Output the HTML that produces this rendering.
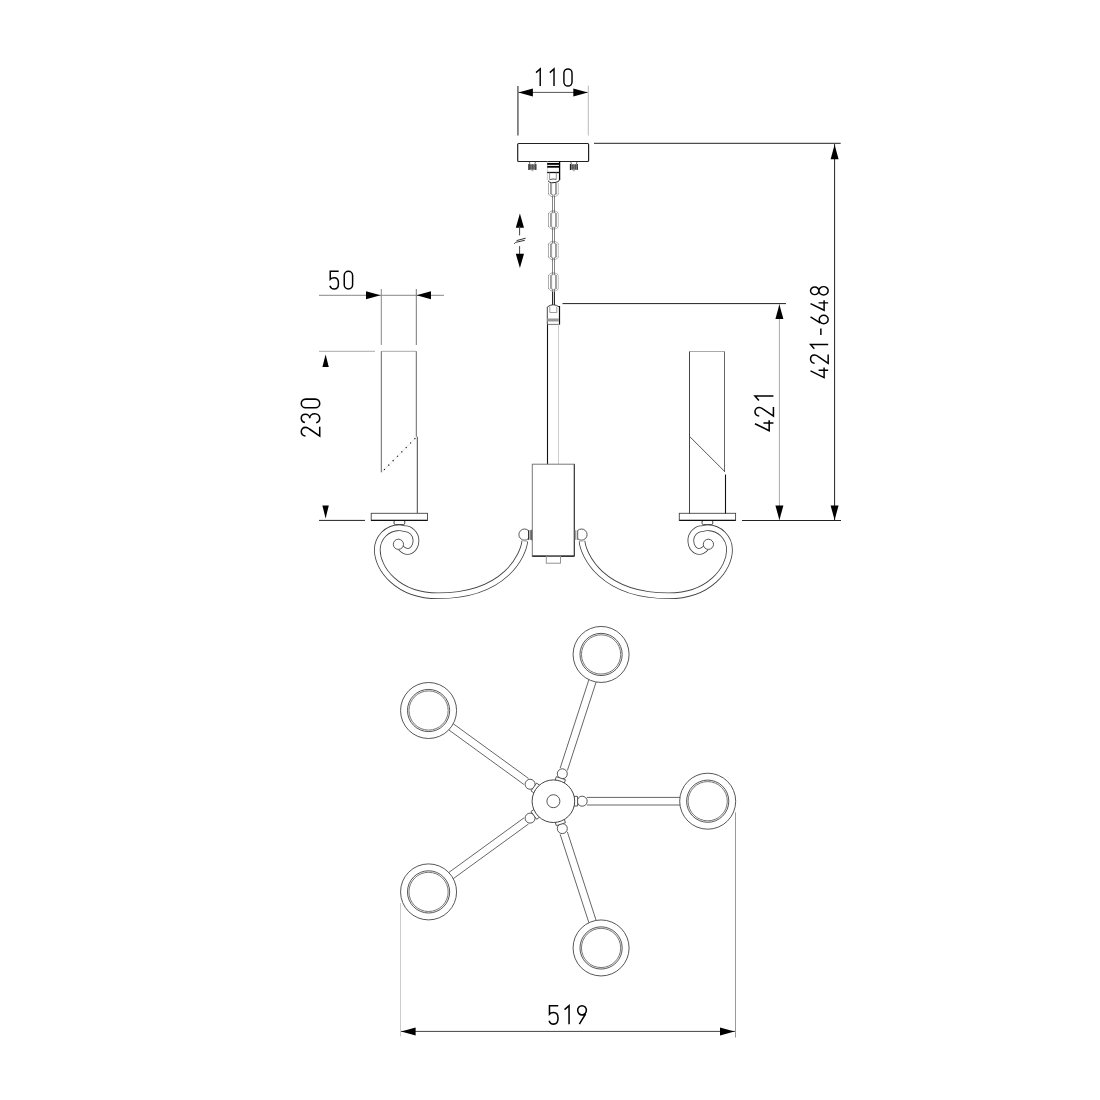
<!DOCTYPE html>
<html><head><meta charset="utf-8"><title>Chandelier drawing</title>
<style>
html,body{margin:0;padding:0;background:#fff;}
body{width:1100px;height:1100px;overflow:hidden;font-family:"Liberation Sans",sans-serif;}
svg{display:block;}
.t{fill:none;stroke:#000;stroke-width:1.5;stroke-linecap:butt;stroke-linejoin:miter;}
</style></head>
<body>
<svg width="1100" height="1100" viewBox="0 0 1100 1100">
<rect width="1100" height="1100" fill="#fff"/>
<path transform="translate(534.30,68.20) scale(0.9538)" d="M1.8,4.6 L6.2,0.75 L6.2,18.75" class="t"/>
<path transform="translate(548.10,68.20) scale(0.9538)" d="M1.8,4.6 L6.2,0.75 L6.2,18.75" class="t"/>
<path transform="translate(563.20,68.20) scale(0.9538)" d="M0.75,5.0 A4.25,4.25 0 0 1 9.25,5.0 L9.25,14.5 A4.25,4.25 0 0 1 0.75,14.5 Z" class="t"/>
<path transform="translate(329.30,270.50) scale(0.9846)" d="M9.5,0.75 L0.95,0.75 L0.95,9.0 C1.9,8.0 3.3,7.4 4.9,7.4 C7.6,7.4 9.25,9.5 9.25,12.6 L9.25,13.6 C9.25,16.6 7.5,18.75 4.9,18.75 C2.8,18.75 1.3,17.6 0.6,15.4" class="t"/>
<path transform="translate(343.50,270.50) scale(0.9846)" d="M0.75,5.0 A4.25,4.25 0 0 1 9.25,5.0 L9.25,14.5 A4.25,4.25 0 0 1 0.75,14.5 Z" class="t"/>
<path transform="translate(548.50,1004.90) scale(1.0256)" d="M9.5,0.75 L0.95,0.75 L0.95,9.0 C1.9,8.0 3.3,7.4 4.9,7.4 C7.6,7.4 9.25,9.5 9.25,12.6 L9.25,13.6 C9.25,16.6 7.5,18.75 4.9,18.75 C2.8,18.75 1.3,17.6 0.6,15.4" class="t"/>
<path transform="translate(562.70,1004.90) scale(1.0256)" d="M1.8,4.6 L6.2,0.75 L6.2,18.75" class="t"/>
<path transform="translate(576.90,1004.90) scale(1.0256)" d="M2.4,18.75 L8.4,8.9 M0.75,5.3 A4.25,4.55 0 1 0 9.25,5.3 A4.25,4.55 0 1 0 0.75,5.3" class="t"/>
<path transform="translate(300.50,436.80) rotate(-90) scale(1.0256)" d="M0.85,4.9 C0.85,2.4 2.7,0.75 5.0,0.75 C7.4,0.75 9.2,2.5 9.2,4.9 C9.2,6.3 8.6,7.4 7.6,8.7 L0.75,18.75 L9.7,18.75" class="t"/>
<path transform="translate(300.50,423.40) rotate(-90) scale(1.0256)" d="M0.8,4.3 C1.3,2.1 3.0,0.75 5.0,0.75 C7.3,0.75 8.9,2.4 8.9,4.8 C8.9,7.2 7.1,9.0 5.0,9.0 C7.6,9.0 9.4,11.1 9.4,13.9 C9.4,16.7 7.4,18.75 4.9,18.75 C2.8,18.75 1.1,17.5 0.6,15.3" class="t"/>
<path transform="translate(300.50,408.60) rotate(-90) scale(1.0256)" d="M0.75,5.0 A4.25,4.25 0 0 1 9.25,5.0 L9.25,14.5 A4.25,4.25 0 0 1 0.75,14.5 Z" class="t"/>
<path transform="translate(754.20,431.50) rotate(-90) scale(1.0256)" d="M7.6,0.75 L0.75,14.6 L11,14.6 M8.3,9.0 L8.3,18.75" class="t"/>
<path transform="translate(754.20,416.90) rotate(-90) scale(1.0256)" d="M0.85,4.9 C0.85,2.4 2.7,0.75 5.0,0.75 C7.4,0.75 9.2,2.5 9.2,4.9 C9.2,6.3 8.6,7.4 7.6,8.7 L0.75,18.75 L9.7,18.75" class="t"/>
<path transform="translate(754.20,402.40) rotate(-90) scale(1.0256)" d="M1.8,4.6 L6.2,0.75 L6.2,18.75" class="t"/>
<path transform="translate(809.80,378.30) rotate(-90) scale(0.9795)" d="M7.6,0.75 L0.75,14.6 L11,14.6 M8.3,9.0 L8.3,18.75" class="t"/>
<path transform="translate(809.80,364.00) rotate(-90) scale(0.9795)" d="M0.85,4.9 C0.85,2.4 2.7,0.75 5.0,0.75 C7.4,0.75 9.2,2.5 9.2,4.9 C9.2,6.3 8.6,7.4 7.6,8.7 L0.75,18.75 L9.7,18.75" class="t"/>
<path transform="translate(809.80,350.50) rotate(-90) scale(0.9795)" d="M1.8,4.6 L6.2,0.75 L6.2,18.75" class="t"/>
<path transform="translate(809.80,335.90) rotate(-90) scale(0.9795)" d="M1.0,11.3 L7.5,11.3" class="t"/>
<path transform="translate(809.80,324.40) rotate(-90) scale(0.9795)" d="M7.6,0.75 L1.6,10.6 M0.75,14.2 A4.25,4.55 0 1 0 9.25,14.2 A4.25,4.55 0 1 0 0.75,14.2" class="t"/>
<path transform="translate(809.80,311.00) rotate(-90) scale(0.9795)" d="M7.6,0.75 L0.75,14.6 L11,14.6 M8.3,9.0 L8.3,18.75" class="t"/>
<path transform="translate(809.80,295.70) rotate(-90) scale(0.9795)" d="M1.1,5.0 A3.9,4.25 0 1 0 8.9,5.0 A3.9,4.25 0 1 0 1.1,5.0 M0.75,14.05 A4.25,4.7 0 1 0 9.25,14.05 A4.25,4.7 0 1 0 0.75,14.05" class="t"/>
<line x1="517.90" y1="86.10" x2="517.90" y2="135.50" stroke="#777" stroke-width="1.7" />
<line x1="588.30" y1="85.60" x2="588.30" y2="135.50" stroke="#bbb" stroke-width="1.0" />
<line x1="518.50" y1="92.40" x2="587.50" y2="92.40" stroke="#555" stroke-width="1.0" />
<path d="M518.40,92.40 L532.90,88.40 L532.90,96.40 Z" fill="#000"/>
<path d="M587.80,92.40 L573.30,96.40 L573.30,88.40 Z" fill="#000"/>
<line x1="594.00" y1="143.30" x2="840.70" y2="143.30" stroke="#222" stroke-width="1.0" />
<line x1="834.60" y1="144.00" x2="834.60" y2="520.00" stroke="#222" stroke-width="1.0" />
<path d="M834.60,144.70 L838.60,159.20 L830.60,159.20 Z" fill="#000"/>
<path d="M834.60,520.00 L830.60,505.50 L838.60,505.50 Z" fill="#000"/>
<line x1="562.50" y1="303.60" x2="786.00" y2="303.60" stroke="#222" stroke-width="1.0" />
<line x1="779.40" y1="304.00" x2="779.40" y2="520.00" stroke="#aaa" stroke-width="1.0" />
<path d="M779.40,304.50 L783.40,319.00 L775.40,319.00 Z" fill="#000"/>
<path d="M779.40,520.00 L775.40,505.50 L783.40,505.50 Z" fill="#000"/>
<line x1="742.00" y1="520.50" x2="841.00" y2="520.50" stroke="#222" stroke-width="1.0" />
<line x1="319.00" y1="295.30" x2="444.00" y2="295.30" stroke="#888" stroke-width="1.0" />
<path d="M380.50,295.30 L366.00,299.30 L366.00,291.30 Z" fill="#000"/>
<path d="M416.50,295.30 L431.00,291.30 L431.00,299.30 Z" fill="#000"/>
<line x1="381.30" y1="289.00" x2="381.30" y2="345.00" stroke="#888" stroke-width="1.0" />
<line x1="416.30" y1="289.00" x2="416.30" y2="345.00" stroke="#777" stroke-width="1.0" />
<line x1="319.00" y1="351.30" x2="375.00" y2="351.30" stroke="#aaa" stroke-width="1.0" />
<path d="M325.60,354.50 L328.80,367.00 L322.40,367.00 Z" fill="#000"/>
<path d="M325.60,518.60 L322.40,505.60 L328.80,505.60 Z" fill="#000"/>
<line x1="319.00" y1="520.40" x2="365.00" y2="520.40" stroke="#222" stroke-width="1.0" />
<line x1="400.50" y1="903.00" x2="400.50" y2="1036.40" stroke="#ccc" stroke-width="1.0" />
<line x1="735.50" y1="812.40" x2="735.50" y2="1037.50" stroke="#999" stroke-width="1.0" />
<line x1="401.00" y1="1031.40" x2="735.00" y2="1031.40" stroke="#444" stroke-width="1.0" />
<path d="M401.10,1031.40 L415.60,1027.40 L415.60,1035.40 Z" fill="#000"/>
<path d="M734.50,1031.40 L720.00,1035.40 L720.00,1027.40 Z" fill="#000"/>
<path d="M519.90,213.60 L524.00,227.80 L515.80,227.80 Z" fill="#000"/>
<line x1="519.60" y1="226.00" x2="519.60" y2="235.40" stroke="#444" stroke-width="1.0" />
<path d="M514.2,243.9 L515.6,242.4 L524.8,240.3 M516.6,240.6 L525.6,238.2" fill="none" stroke="#333" stroke-width="1.0"/>
<line x1="519.60" y1="246.10" x2="519.60" y2="255.00" stroke="#444" stroke-width="1.0" />
<path d="M519.90,268.00 L515.80,253.80 L524.00,253.80 Z" fill="#000"/>
<rect x="517.7" y="143.5" width="70.9" height="18" rx="1" fill="none" stroke="#222" stroke-width="1.2"/>
<path d="M529.2,161.8 L530.0,164.3 M535.5,161.8 L534.8,164.3" stroke="#444" stroke-width="0.8" fill="none"/>
<rect x="528.4" y="164.3" width="8" height="5.4" fill="#8a8a8a"/>
<line x1="529.00" y1="164.00" x2="529.00" y2="170.00" stroke="#222" stroke-width="1.2" />
<line x1="535.80" y1="164.00" x2="535.80" y2="170.00" stroke="#333" stroke-width="1.1" />
<line x1="530.80" y1="164.30" x2="530.80" y2="169.70" stroke="#333" stroke-width="0.7" />
<line x1="532.40" y1="164.30" x2="532.40" y2="169.70" stroke="#333" stroke-width="0.7" />
<line x1="534.00" y1="164.30" x2="534.00" y2="169.70" stroke="#333" stroke-width="0.7" />
<line x1="531.40" y1="170.70" x2="533.40" y2="170.70" stroke="#888" stroke-width="0.8" />
<path d="M570.7,161.8 L571.5,164.3 M577.0,161.8 L576.3,164.3" stroke="#444" stroke-width="0.8" fill="none"/>
<rect x="569.9" y="164.3" width="8" height="5.4" fill="#8a8a8a"/>
<line x1="570.50" y1="164.00" x2="570.50" y2="170.00" stroke="#222" stroke-width="1.2" />
<line x1="577.30" y1="164.00" x2="577.30" y2="170.00" stroke="#333" stroke-width="1.1" />
<line x1="572.30" y1="164.30" x2="572.30" y2="169.70" stroke="#333" stroke-width="0.7" />
<line x1="573.90" y1="164.30" x2="573.90" y2="169.70" stroke="#333" stroke-width="0.7" />
<line x1="575.50" y1="164.30" x2="575.50" y2="169.70" stroke="#333" stroke-width="0.7" />
<line x1="572.90" y1="170.70" x2="574.90" y2="170.70" stroke="#888" stroke-width="0.8" />
<line x1="547.40" y1="161.50" x2="547.40" y2="180.00" stroke="#ccc" stroke-width="0.9" />
<line x1="559.60" y1="161.50" x2="559.60" y2="180.00" stroke="#000" stroke-width="1.3" />
<line x1="547.20" y1="163.90" x2="559.60" y2="163.90" stroke="#000" stroke-width="1.9" />
<line x1="547.20" y1="166.80" x2="559.60" y2="166.80" stroke="#000" stroke-width="1.8" />
<line x1="547.20" y1="172.50" x2="559.60" y2="172.50" stroke="#111" stroke-width="1.3" />
<path d="M549.6,172.5 V179.5 M556.3,172.5 V179.3" fill="none" stroke="#777" stroke-width="0.8"/>
<path d="M549.6,179.6 Q553,178.6 556.3,179.3" fill="none" stroke="#444" stroke-width="0.9"/>
<path d="M559.6,179.5 Q559.6,182 555,182.5 L551.5,182.8 Q549.5,182.5 548,180.8" fill="none" stroke="#222" stroke-width="1.0"/>
<line x1="552.50" y1="195.50" x2="552.50" y2="212.50" stroke="#666" stroke-width="0.8" />
<line x1="554.50" y1="195.50" x2="554.50" y2="212.50" stroke="#666" stroke-width="0.8" />
<line x1="552.50" y1="227.50" x2="552.50" y2="243.00" stroke="#666" stroke-width="0.8" />
<line x1="554.50" y1="227.50" x2="554.50" y2="243.00" stroke="#666" stroke-width="0.8" />
<line x1="552.50" y1="258.00" x2="552.50" y2="274.50" stroke="#666" stroke-width="0.8" />
<line x1="554.50" y1="258.00" x2="554.50" y2="274.50" stroke="#666" stroke-width="0.8" />
<line x1="552.50" y1="289.50" x2="552.50" y2="305.00" stroke="#666" stroke-width="0.8" />
<line x1="554.50" y1="289.50" x2="554.50" y2="305.00" stroke="#666" stroke-width="0.8" />
<line x1="552.60" y1="292.00" x2="552.60" y2="305.00" stroke="#222" stroke-width="1.0" />
<line x1="554.40" y1="292.00" x2="554.40" y2="305.00" stroke="#222" stroke-width="1.0" />
<line x1="548.50" y1="183.00" x2="548.50" y2="194.00" stroke="#999" stroke-width="0.8" />
<line x1="558.40" y1="183.00" x2="558.40" y2="194.00" stroke="#bbb" stroke-width="0.8" />
<line x1="550.60" y1="183.00" x2="550.60" y2="194.00" stroke="#777" stroke-width="0.8" />
<line x1="551.60" y1="183.00" x2="551.60" y2="194.00" stroke="#888" stroke-width="0.8" />
<line x1="555.60" y1="183.00" x2="555.60" y2="194.00" stroke="#777" stroke-width="0.8" />
<line x1="556.60" y1="183.00" x2="556.60" y2="194.00" stroke="#888" stroke-width="0.8" />
<path d="M548.5,193.7 Q549.5,196.3 553.3,196.7 Q557.5,196.3 558.6,193.7" fill="none" stroke="#555" stroke-width="0.8" stroke-dasharray="1.2,0.8"/>
<path d="M550.6,193.9 Q553.5,196.5 556.6,193.9" fill="none" stroke="#666" stroke-width="0.7"/>
<line x1="548.50" y1="213.50" x2="548.50" y2="226.50" stroke="#999" stroke-width="0.8" />
<line x1="558.40" y1="213.50" x2="558.40" y2="226.50" stroke="#bbb" stroke-width="0.8" />
<line x1="550.60" y1="213.50" x2="550.60" y2="226.50" stroke="#777" stroke-width="0.8" />
<line x1="551.60" y1="213.50" x2="551.60" y2="226.50" stroke="#888" stroke-width="0.8" />
<line x1="555.60" y1="213.50" x2="555.60" y2="226.50" stroke="#777" stroke-width="0.8" />
<line x1="556.60" y1="213.50" x2="556.60" y2="226.50" stroke="#888" stroke-width="0.8" />
<path d="M548.5,213.8 Q549.5,211.2 553.3,210.8 Q557.5,211.2 558.6,213.8" fill="none" stroke="#555" stroke-width="0.8" stroke-dasharray="1.2,0.8"/>
<path d="M550.6,213.6 Q553.5,211.0 556.6,213.6" fill="none" stroke="#666" stroke-width="0.7"/>
<path d="M548.5,226.2 Q549.5,228.8 553.3,229.2 Q557.5,228.8 558.6,226.2" fill="none" stroke="#555" stroke-width="0.8" stroke-dasharray="1.2,0.8"/>
<path d="M550.6,226.4 Q553.5,229.0 556.6,226.4" fill="none" stroke="#666" stroke-width="0.7"/>
<line x1="548.50" y1="244.00" x2="548.50" y2="257.00" stroke="#999" stroke-width="0.8" />
<line x1="558.40" y1="244.00" x2="558.40" y2="257.00" stroke="#bbb" stroke-width="0.8" />
<line x1="550.60" y1="244.00" x2="550.60" y2="257.00" stroke="#777" stroke-width="0.8" />
<line x1="551.60" y1="244.00" x2="551.60" y2="257.00" stroke="#888" stroke-width="0.8" />
<line x1="555.60" y1="244.00" x2="555.60" y2="257.00" stroke="#777" stroke-width="0.8" />
<line x1="556.60" y1="244.00" x2="556.60" y2="257.00" stroke="#888" stroke-width="0.8" />
<path d="M548.5,244.3 Q549.5,241.7 553.3,241.3 Q557.5,241.7 558.6,244.3" fill="none" stroke="#555" stroke-width="0.8" stroke-dasharray="1.2,0.8"/>
<path d="M550.6,244.1 Q553.5,241.5 556.6,244.1" fill="none" stroke="#666" stroke-width="0.7"/>
<path d="M548.5,256.7 Q549.5,259.3 553.3,259.7 Q557.5,259.3 558.6,256.7" fill="none" stroke="#555" stroke-width="0.8" stroke-dasharray="1.2,0.8"/>
<path d="M550.6,256.9 Q553.5,259.5 556.6,256.9" fill="none" stroke="#666" stroke-width="0.7"/>
<line x1="548.50" y1="275.50" x2="548.50" y2="288.50" stroke="#999" stroke-width="0.8" />
<line x1="558.40" y1="275.50" x2="558.40" y2="288.50" stroke="#bbb" stroke-width="0.8" />
<line x1="550.60" y1="275.50" x2="550.60" y2="288.50" stroke="#777" stroke-width="0.8" />
<line x1="551.60" y1="275.50" x2="551.60" y2="288.50" stroke="#888" stroke-width="0.8" />
<line x1="555.60" y1="275.50" x2="555.60" y2="288.50" stroke="#777" stroke-width="0.8" />
<line x1="556.60" y1="275.50" x2="556.60" y2="288.50" stroke="#888" stroke-width="0.8" />
<path d="M548.5,275.8 Q549.5,273.2 553.3,272.8 Q557.5,273.2 558.6,275.8" fill="none" stroke="#555" stroke-width="0.8" stroke-dasharray="1.2,0.8"/>
<path d="M550.6,275.6 Q553.5,273.0 556.6,275.6" fill="none" stroke="#666" stroke-width="0.7"/>
<path d="M548.5,288.2 Q549.5,290.8 553.3,291.2 Q557.5,290.8 558.6,288.2" fill="none" stroke="#555" stroke-width="0.8" stroke-dasharray="1.2,0.8"/>
<path d="M550.6,288.4 Q553.5,291.0 556.6,288.4" fill="none" stroke="#666" stroke-width="0.7"/>
<path d="M547.3,324.5 V307 Q553,302.5 559.5,307 V324.5" fill="none" stroke="#444" stroke-width="1.0"/>
<line x1="559.50" y1="306.00" x2="559.50" y2="324.50" stroke="#111" stroke-width="1.2" />
<path d="M549.8,306.5 V312.5 M556.8,306.5 V312.5 M549.8,312.5 H556.8" stroke="#888" stroke-width="0.8"/>
<rect x="547.3" y="318.5" width="11.5" height="3" fill="#999"/>
<line x1="547.30" y1="324.40" x2="559.50" y2="324.40" stroke="#666" stroke-width="0.9" />
<line x1="547.50" y1="324.40" x2="547.50" y2="464.20" stroke="#111" stroke-width="1.1" />
<line x1="558.50" y1="324.40" x2="558.50" y2="464.20" stroke="#ccc" stroke-width="1.0" />
<rect x="532.3" y="464.2" width="42" height="91.9" fill="none" stroke="#777" stroke-width="1.0"/>
<line x1="574.30" y1="464.20" x2="574.30" y2="556.10" stroke="#333" stroke-width="1.0" />
<line x1="532.30" y1="556.10" x2="574.30" y2="556.10" stroke="#111" stroke-width="1.2" />
<rect x="546.3" y="556.1" width="14.2" height="7.1" fill="none" stroke="#888" stroke-width="0.9"/>
<g>
<path d="M524.8,541.2 C523.4,554.4 506.1,595.8 438.1,595.8 C396.8,595.8 377.3,568.2 377.3,550 A22.2,22.2 0 0 1 399.3,527.6 L404,528.5 A12,12 0 0 1 416,540.5 C416,547.5 411.5,551.6 407.5,551.5 C405,551.4 403,550.3 400.5,547.5" fill="none" stroke="#444" stroke-width="6.6"/>
<path d="M524.8,541.2 C523.4,554.4 506.1,595.8 438.1,595.8 C396.8,595.8 377.3,568.2 377.3,550 A22.2,22.2 0 0 1 399.3,527.6 L404,528.5 A12,12 0 0 1 416,540.5 C416,547.5 411.5,551.6 407.5,551.5 C405,551.4 403,550.3 400.5,547.5" fill="none" stroke="#fff" stroke-width="4.9"/>
<circle cx="398.4" cy="544.3" r="5.1" fill="#fff" stroke="#444" stroke-width="0.9"/>
<rect x="394" y="520.4" width="10.8" height="4.2" rx="1.5" fill="#fff" stroke="#333" stroke-width="0.9"/>
<rect x="371.2" y="513.3" width="56.3" height="7.1" fill="#fff" stroke="#444" stroke-width="0.9"/>
<line x1="371.20" y1="520.40" x2="427.50" y2="520.40" stroke="#111" stroke-width="1.2" />
</g>
<g transform="translate(1106.8,0) scale(-1,1)">
<path d="M524.8,541.2 C523.4,554.4 506.1,595.8 438.1,595.8 C396.8,595.8 377.3,568.2 377.3,550 A22.2,22.2 0 0 1 399.3,527.6 L404,528.5 A12,12 0 0 1 416,540.5 C416,547.5 411.5,551.6 407.5,551.5 C405,551.4 403,550.3 400.5,547.5" fill="none" stroke="#444" stroke-width="6.6"/>
<path d="M524.8,541.2 C523.4,554.4 506.1,595.8 438.1,595.8 C396.8,595.8 377.3,568.2 377.3,550 A22.2,22.2 0 0 1 399.3,527.6 L404,528.5 A12,12 0 0 1 416,540.5 C416,547.5 411.5,551.6 407.5,551.5 C405,551.4 403,550.3 400.5,547.5" fill="none" stroke="#fff" stroke-width="4.9"/>
<circle cx="398.4" cy="544.3" r="5.1" fill="#fff" stroke="#444" stroke-width="0.9"/>
<rect x="394" y="520.4" width="10.8" height="4.2" rx="1.5" fill="#fff" stroke="#333" stroke-width="0.9"/>
<rect x="371.2" y="513.3" width="56.3" height="7.1" fill="#fff" stroke="#444" stroke-width="0.9"/>
<line x1="371.20" y1="520.40" x2="427.50" y2="520.40" stroke="#111" stroke-width="1.2" />
</g>
<circle cx="524.5" cy="534.6" r="5.6" fill="#fff" stroke="#444" stroke-width="0.9"/>
<rect x="528.4" y="530" width="3.9" height="9.6" fill="#fff" stroke="none"/>
<line x1="528.60" y1="530.20" x2="528.60" y2="539.80" stroke="#222" stroke-width="1.0" />
<line x1="530.20" y1="530.20" x2="530.20" y2="539.80" stroke="#333" stroke-width="0.9" />
<line x1="531.80" y1="529.80" x2="531.80" y2="540.20" stroke="#222" stroke-width="1.0" />
<circle cx="581.5" cy="534.6" r="5.6" fill="#fff" stroke="#444" stroke-width="0.9"/>
<rect x="574.9" y="530" width="3.2" height="9.6" fill="#fff" stroke="none"/>
<line x1="575.80" y1="530.20" x2="575.80" y2="539.80" stroke="#666" stroke-width="0.9" />
<line x1="577.70" y1="530.20" x2="577.70" y2="539.80" stroke="#444" stroke-width="0.9" />
<line x1="381.30" y1="351.30" x2="416.30" y2="351.30" stroke="#aaa" stroke-width="1.0" />
<line x1="381.30" y1="351.30" x2="381.30" y2="472.40" stroke="#666" stroke-width="1.0" />
<line x1="416.30" y1="351.30" x2="416.30" y2="436.70" stroke="#666" stroke-width="1.0" />
<line x1="417.30" y1="436.70" x2="417.30" y2="513.00" stroke="#444" stroke-width="1.0" />
<line x1="381.60" y1="472.40" x2="416.80" y2="436.70" stroke="#ddd" stroke-width="0.8" />
<line x1="381.60" y1="472.40" x2="416.80" y2="436.70" stroke="#111" stroke-width="1.2" stroke-dasharray="1.1,5.1" stroke-dashoffset="-3.5"/>
<line x1="689.50" y1="351.50" x2="724.50" y2="351.50" stroke="#aaa" stroke-width="1.0" />
<line x1="689.50" y1="351.50" x2="689.50" y2="513.50" stroke="#444" stroke-width="1.0" />
<line x1="724.50" y1="351.50" x2="724.50" y2="471.80" stroke="#666" stroke-width="1.0" />
<line x1="725.50" y1="474.50" x2="725.50" y2="513.50" stroke="#111" stroke-width="1.1" />
<line x1="689.50" y1="436.40" x2="725.00" y2="471.80" stroke="#444" stroke-width="0.9" />
<line x1="586.90" y1="805.00" x2="680.00" y2="805.00" stroke="#555" stroke-width="0.9" />
<line x1="586.90" y1="797.40" x2="680.00" y2="797.40" stroke="#555" stroke-width="0.9" />
<circle cx="707.70" cy="801.20" r="28" fill="none" stroke="#444" stroke-width="0.9"/>
<circle cx="707.70" cy="801.20" r="21.1" fill="none" stroke="#444" stroke-width="0.9"/>
<circle cx="707.70" cy="801.20" r="19.6" fill="none" stroke="#555" stroke-width="0.8"/>
<circle cx="582.20" cy="801.20" r="5.0" fill="#fff" stroke="#444" stroke-width="0.9"/>
<polygon points="573.90,806.00 577.60,806.00 577.60,796.40 573.90,796.40" fill="#fff" stroke="#444" stroke-width="0.9"/>
<line x1="567.37" y1="770.51" x2="596.14" y2="681.97" stroke="#555" stroke-width="0.9" />
<line x1="560.14" y1="768.17" x2="588.91" y2="679.62" stroke="#555" stroke-width="0.9" />
<circle cx="601.08" cy="654.45" r="28" fill="none" stroke="#444" stroke-width="0.9"/>
<circle cx="601.08" cy="654.45" r="21.1" fill="none" stroke="#444" stroke-width="0.9"/>
<circle cx="601.08" cy="654.45" r="19.6" fill="none" stroke="#555" stroke-width="0.8"/>
<circle cx="562.30" cy="773.81" r="5.0" fill="#fff" stroke="#444" stroke-width="0.9"/>
<polygon points="564.30,783.19 565.44,779.67 556.31,776.70 555.17,780.22" fill="#fff" stroke="#444" stroke-width="0.9"/>
<line x1="528.53" y1="778.43" x2="453.21" y2="723.71" stroke="#555" stroke-width="0.9" />
<line x1="524.06" y1="784.58" x2="448.74" y2="729.86" stroke="#555" stroke-width="0.9" />
<circle cx="428.57" cy="710.50" r="28" fill="none" stroke="#444" stroke-width="0.9"/>
<circle cx="428.57" cy="710.50" r="21.1" fill="none" stroke="#444" stroke-width="0.9"/>
<circle cx="428.57" cy="710.50" r="19.6" fill="none" stroke="#555" stroke-width="0.8"/>
<circle cx="530.10" cy="784.27" r="5.0" fill="#fff" stroke="#444" stroke-width="0.9"/>
<polygon points="539.64,785.27 536.64,783.09 531.00,790.86 533.99,793.03" fill="#fff" stroke="#444" stroke-width="0.9"/>
<line x1="524.06" y1="817.82" x2="448.74" y2="872.54" stroke="#555" stroke-width="0.9" />
<line x1="528.53" y1="823.97" x2="453.21" y2="878.69" stroke="#555" stroke-width="0.9" />
<circle cx="428.57" cy="891.90" r="28" fill="none" stroke="#444" stroke-width="0.9"/>
<circle cx="428.57" cy="891.90" r="21.1" fill="none" stroke="#444" stroke-width="0.9"/>
<circle cx="428.57" cy="891.90" r="19.6" fill="none" stroke="#555" stroke-width="0.8"/>
<circle cx="530.10" cy="818.13" r="5.0" fill="#fff" stroke="#444" stroke-width="0.9"/>
<polygon points="533.99,809.37 531.00,811.54 536.64,819.31 539.64,817.13" fill="#fff" stroke="#444" stroke-width="0.9"/>
<line x1="560.14" y1="834.23" x2="588.91" y2="922.78" stroke="#555" stroke-width="0.9" />
<line x1="567.37" y1="831.89" x2="596.14" y2="920.43" stroke="#555" stroke-width="0.9" />
<circle cx="601.08" cy="947.95" r="28" fill="none" stroke="#444" stroke-width="0.9"/>
<circle cx="601.08" cy="947.95" r="21.1" fill="none" stroke="#444" stroke-width="0.9"/>
<circle cx="601.08" cy="947.95" r="19.6" fill="none" stroke="#555" stroke-width="0.8"/>
<circle cx="562.30" cy="828.59" r="5.0" fill="#fff" stroke="#444" stroke-width="0.9"/>
<polygon points="555.17,822.18 556.31,825.70 565.44,822.73 564.30,819.21" fill="#fff" stroke="#444" stroke-width="0.9"/>
<circle cx="553.4" cy="801.2" r="21.3" fill="#fff" stroke="#444" stroke-width="1.0"/>
<circle cx="553.4" cy="801.2" r="6.5" fill="none" stroke="#444" stroke-width="0.9"/>
</svg>
</body></html>
